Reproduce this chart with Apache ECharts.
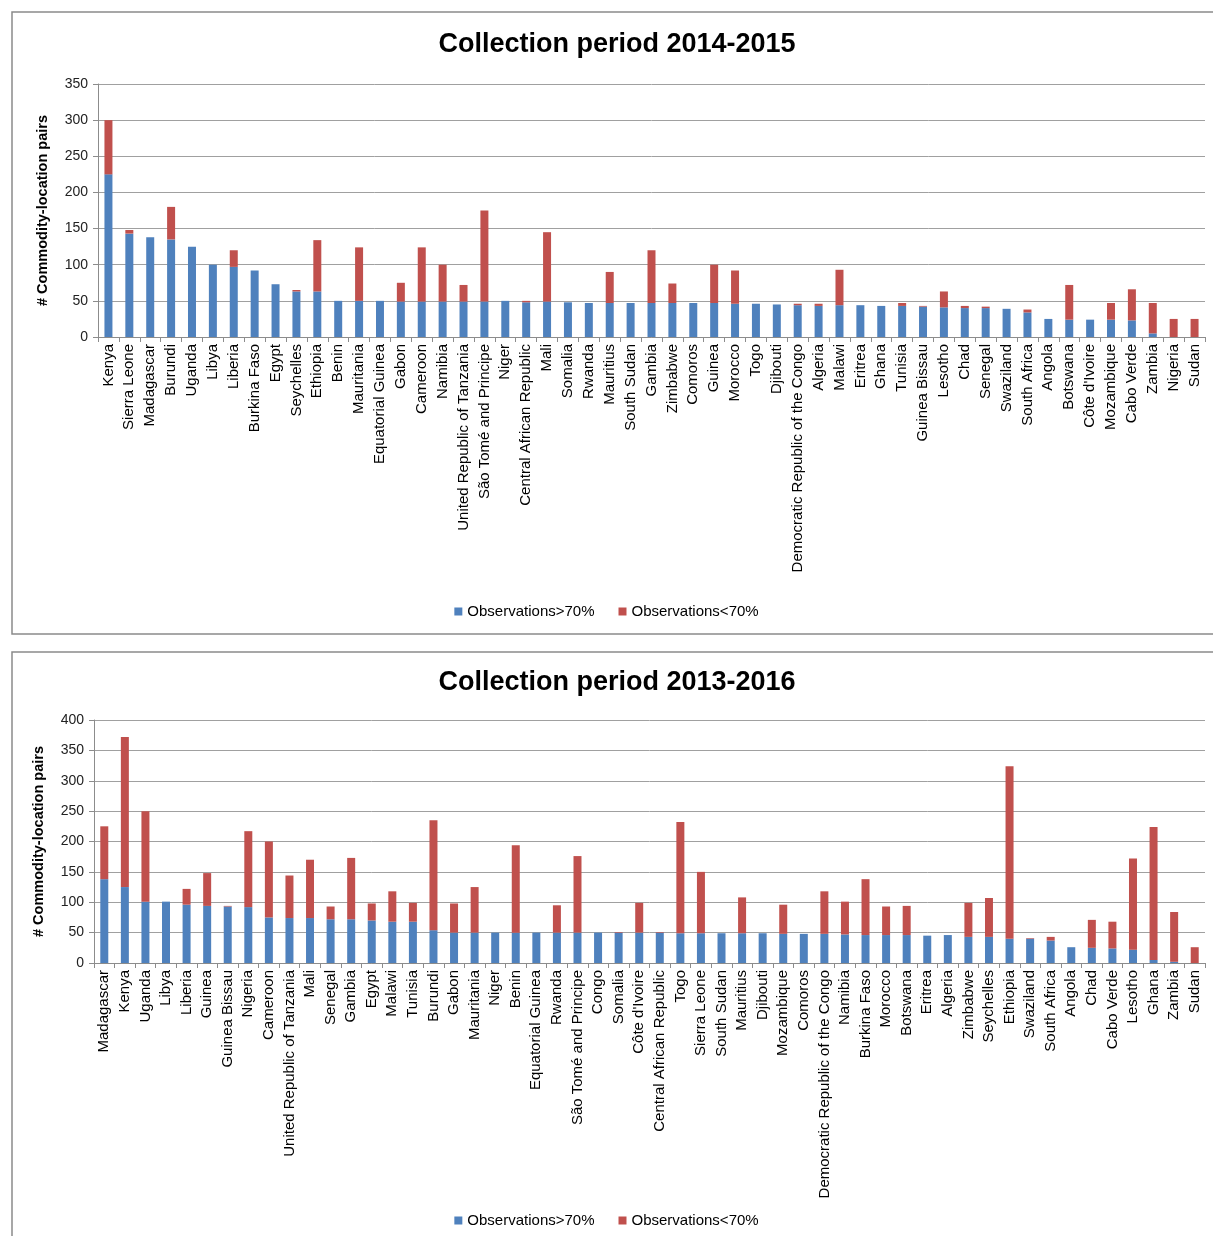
<!DOCTYPE html>
<html>
<head>
<meta charset="utf-8">
<script src="https://cdn.jsdelivr.net/npm/echarts@6/dist/echarts.min.js"></script>
<style>
  html, body { margin: 0; padding: 0; background: #fff; }
  #main { width: 1213px; height: 1236px; }
</style>
</head>
<body>
<div id="main"></div>
<script>
// collection period 2014-2015
var countries1 = ['Kenya', 'Sierra Leone', 'Madagascar', 'Burundi', 'Uganda', 'Libya', 'Liberia', 'Burkina Faso', 'Egypt', 'Seychelles',
  'Ethiopia', 'Benin', 'Mauritania', 'Equatorial Guinea', 'Gabon', 'Cameroon', 'Namibia', 'United Republic of Tanzania', 'São Tomé and Principe', 'Niger',
  'Central African Republic', 'Mali', 'Somalia', 'Rwanda', 'Mauritius', 'South Sudan', 'Gambia', 'Zimbabwe', 'Comoros', 'Guinea',
  'Morocco', 'Togo', 'Djibouti', 'Democratic Republic of the Congo', 'Algeria', 'Malawi', 'Eritrea', 'Ghana', 'Tunisia', 'Guinea Bissau',
  'Lesotho', 'Chad', 'Senegal', 'Swaziland', 'South Africa', 'Angola', 'Botswana', "Côte d'Ivoire", 'Mozambique', 'Cabo Verde',
  'Zambia', 'Nigeria', 'Sudan'];
var above1 = [225, 143, 138, 135, 125, 100, 97, 92, 73, 63,
  63, 50, 50, 50, 49, 49, 49, 49, 49, 50,
  48, 49, 48, 47, 47, 47, 47, 47, 47, 47,
  46, 46, 45, 44, 43, 44, 44, 43, 43, 42,
  41, 40, 40, 39, 34, 25, 24, 24, 24, 23,
  5, 0, 0];
var below1 = [75, 5, 0, 45, 0, 0, 23, 0, 0, 2,
  71, 0, 74, 0, 26, 75, 51, 23, 126, 0,
  2, 96, 0, 0, 43, 0, 73, 27, 0, 53,
  46, 0, 0, 2, 3, 49, 0, 0, 4, 1,
  22, 3, 2, 0, 4, 0, 48, 0, 23, 43,
  42, 25, 25];

// collection period 2013-2016
var countries2 = ['Madagascar', 'Kenya', 'Uganda', 'Libya', 'Liberia', 'Guinea', 'Guinea Bissau', 'Nigeria', 'Cameroon', 'United Republic of Tanzania',
  'Mali', 'Senegal', 'Gambia', 'Egypt', 'Malawi', 'Tunisia', 'Burundi', 'Gabon', 'Mauritania', 'Niger',
  'Benin', 'Equatorial Guinea', 'Rwanda', 'São Tomé and Principe', 'Congo', 'Somalia', "Côte d'Ivoire", 'Central African Republic', 'Togo', 'Sierra Leone',
  'South Sudan', 'Mauritius', 'Djibouti', 'Mozambique', 'Comoros', 'Democratic Republic of the Congo', 'Namibia', 'Burkina Faso', 'Morocco', 'Botswana',
  'Eritrea', 'Algeria', 'Zimbabwe', 'Seychelles', 'Ethiopia', 'Swaziland', 'South Africa', 'Angola', 'Chad', 'Cabo Verde',
  'Lesotho', 'Ghana', 'Zambia', 'Sudan'];
var above2 = [138, 125, 101, 101, 96, 94, 93, 92, 75, 74,
  74, 72, 72, 70, 68, 68, 54, 50, 50, 50,
  50, 50, 50, 50, 50, 50, 50, 50, 49, 49,
  49, 49, 49, 48, 48, 48, 47, 46, 46, 46,
  45, 46, 43, 43, 40, 40, 37, 26, 25, 24,
  22, 5, 2, 0];
var below2 = [87, 247, 149, 0, 26, 54, 1, 125, 125, 70,
  96, 21, 101, 28, 50, 31, 181, 48, 75, 0,
  144, 0, 45, 126, 0, 1, 49, 1, 183, 101,
  0, 59, 0, 48, 0, 70, 54, 92, 47, 48,
  0, 0, 56, 64, 284, 1, 6, 0, 46, 44,
  150, 219, 82, 26];

var titles = ['Collection period 2014-2015', 'Collection period 2013-2016'];
var seriesNames = ['Observations>70%', 'Observations<70%'];

var blue = '#4F81BD';
var red = '#C0504D';
var font = 'Liberation Sans';

function xAxisFor(idx, cats) {
  return {
    type: 'category',
    gridIndex: idx,
    data: cats,
    axisLine: { lineStyle: { color: '#8c8c8c', width: 1 } },
    axisTick: { show: true, length: 5, lineStyle: { color: '#8c8c8c' } },
    axisLabel: {
      interval: 0,
      rotate: 90,
      margin: 7,
      fontFamily: font,
      fontSize: 15,
      color: '#000'
    }
  };
}

function yAxisFor(idx, max) {
  return {
    type: 'value',
    gridIndex: idx,
    min: 0,
    max: max,
    interval: 50,
    name: '# Commodity-location pairs',
    nameLocation: 'middle',
    nameGap: 48,
    nameTextStyle: { fontFamily: font, fontSize: 14.5, fontWeight: 'bold', color: '#000' },
    axisLine: { show: true, lineStyle: { color: '#8c8c8c' } },
    axisTick: { show: true, length: 5, lineStyle: { color: '#8c8c8c' } },
    axisLabel: { fontFamily: font, fontSize: 14, color: '#222', margin: 10 },
    splitLine: { lineStyle: { color: '#a0a0a0', width: 1 } }
  };
}

var myChart = echarts.init(document.getElementById('main'));
var option = {
  animation: false,
  backgroundColor: '#fff',
  graphic: [
    { type: 'rect', shape: { x: 12, y: 12, width: 1215, height: 622 }, style: { fill: 'none', stroke: '#8a8a8a', lineWidth: 1.5 }, silent: true },
    { type: 'rect', shape: { x: 12, y: 652, width: 1215, height: 600 }, style: { fill: 'none', stroke: '#8a8a8a', lineWidth: 1.5 }, silent: true }
  ],
  title: [
    { text: titles[0], left: 617, textAlign: 'center', top: 31, padding: 0,
      textStyle: { fontFamily: font, fontSize: 27, fontWeight: 'bold', color: '#000' } },
    { text: titles[1], left: 617, textAlign: 'center', top: 669, padding: 0,
      textStyle: { fontFamily: font, fontSize: 27, fontWeight: 'bold', color: '#000' } }
  ],
  legend: [
    { data: seriesNames, left: 'center', top: 599, itemWidth: 8, itemHeight: 8, itemGap: 24, icon: 'rect',
      textStyle: { fontFamily: font, fontSize: 15, color: '#000' } },
    { data: seriesNames, left: 'center', top: 1208, itemWidth: 8, itemHeight: 8, itemGap: 24, icon: 'rect',
      textStyle: { fontFamily: font, fontSize: 15, color: '#000' } }
  ],
  grid: [
    { left: 98, top: 84, width: 1107, height: 253 },
    { left: 94, top: 720, width: 1111, height: 243 }
  ],
  xAxis: [xAxisFor(0, countries1), xAxisFor(1, countries2)],
  yAxis: [yAxisFor(0, 350), yAxisFor(1, 400)],
  series: [
    { name: seriesNames[0], type: 'bar', stack: 'a', xAxisIndex: 0, yAxisIndex: 0, barWidth: 8, data: above1, itemStyle: { color: blue } },
    { name: seriesNames[1], type: 'bar', stack: 'a', xAxisIndex: 0, yAxisIndex: 0, barWidth: 8, data: below1, itemStyle: { color: red } },
    { name: seriesNames[0], type: 'bar', stack: 'b', xAxisIndex: 1, yAxisIndex: 1, barWidth: 8, data: above2, itemStyle: { color: blue } },
    { name: seriesNames[1], type: 'bar', stack: 'b', xAxisIndex: 1, yAxisIndex: 1, barWidth: 8, data: below2, itemStyle: { color: red } }
  ]
};
myChart.setOption(option);
</script>
</body>
</html>
